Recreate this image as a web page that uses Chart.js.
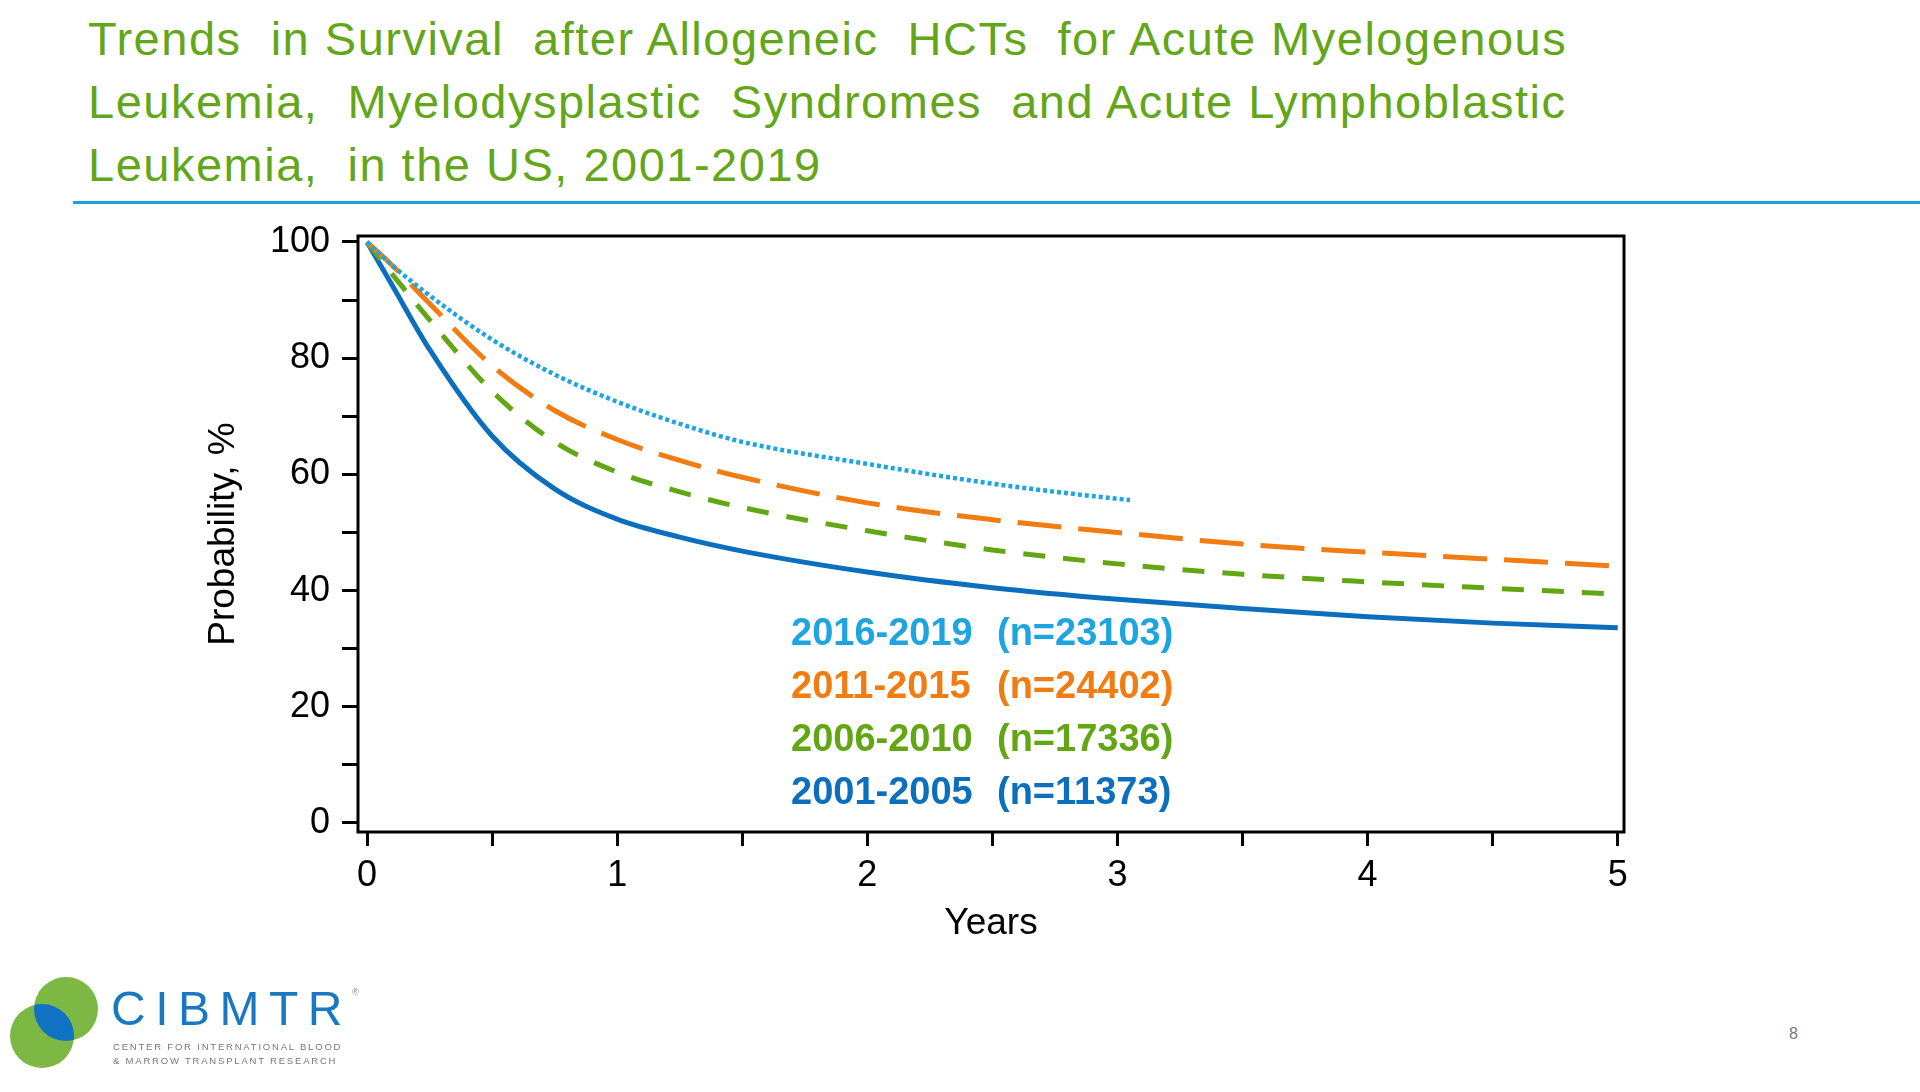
<!DOCTYPE html>
<html>
<head>
<meta charset="utf-8">
<script src="https://cdn.jsdelivr.net/npm/chart.js@4.4.1/dist/chart.umd.min.js"></script>
<style>
  html, body { margin: 0; padding: 0; background: #fff; }
  body { width: 1920px; height: 1092px; position: relative; overflow: hidden; font-family: Arial, "Liberation Sans", sans-serif; }
  #title { position: absolute; left: 88px; top: 7px; font-size: 47px; line-height: 63px; color: #64a619; white-space: pre; letter-spacing: 1.5px; }
  #rule { position: absolute; left: 73px; top: 201px; width: 1847px; height: 3px; background: #1c9fdc; }
  #chart { position: absolute; left: 0; top: 0; }
  #logo { position: absolute; left: 0; top: 970px; }
  #brand { position: absolute; left: 111px; top: 967px; font-size: 48px; line-height: 50px; color: #1a78c2; letter-spacing: 9.5px; }
  #brand sup { font-size: 9px; letter-spacing: 0; vertical-align: 30px; color: #888; }
  #sub { position: absolute; left: 113px; top: 1040px; font-size: 9.5px; line-height: 14px; color: #777; letter-spacing: 1.8px; white-space: pre; }
  #page { position: absolute; left: 1789px; top: 1025px; font-size: 16px; color: #777; }
</style>
</head>
<body>
<div id="title">Trends  in Survival  after Allogeneic  HCTs  for Acute Myelogenous
Leukemia,  Myelodysplastic  Syndromes  and Acute Lymphoblastic
Leukemia,  in the US, 2001-2019</div>
<div id="rule"></div>
<canvas id="chart" width="1920" height="1000"></canvas>
<svg id="logo" width="110" height="105">
  <defs><clipPath id="lens"><circle cx="66" cy="39" r="32"/></clipPath></defs>
  <circle cx="66" cy="39" r="32" fill="#7cb843"/>
  <circle cx="42" cy="66" r="32" fill="#7cb843"/>
  <circle cx="42" cy="66" r="32" fill="#1172c4" clip-path="url(#lens)"/>
</svg>
<div id="brand">CIBMTR<sup>®</sup></div>
<div id="sub">CENTER FOR INTERNATIONAL BLOOD
&amp; MARROW TRANSPLANT RESEARCH</div>
<div id="page">8</div>
<script>
// years after transplant
const years = [0, 0.1, 0.25, 0.5, 0.75, 1, 1.25, 1.5, 2, 2.5, 3, 3.5, 4, 4.5, 5];
const yearsRecent = [0, 0.1, 0.25, 0.5, 0.75, 1, 1.25, 1.5, 2, 2.5, 3, 3.05];

// survival probability, %
const surv2016 = [100, 96.0, 90.8, 83.2, 77.2, 72.5, 68.7, 65.6, 61.8, 58.4, 55.8, 55.6];
const surv2011 = [100, 96.0, 89.4, 78.7, 71.0, 66.0, 62.4, 59.5, 55.1, 52.2, 50.0, 48.0, 46.6, 45.4, 44.2];
const surv2006 = [100, 94.5, 86.6, 74.3, 65.6, 60.4, 57.0, 54.3, 50.3, 47.0, 44.6, 42.8, 41.5, 40.4, 39.4];
const surv2001 = [100, 92.6, 81.5, 66.6, 57.5, 52.3, 49.2, 46.8, 43.2, 40.5, 38.5, 36.9, 35.5, 34.4, 33.6];

const periods = ["2016-2019", "2011-2015", "2006-2010", "2001-2005"];
const counts = [23103, 24402, 17336, 11373];
const colors = ["#1ea4e0", "#f07c12", "#62a614", "#0b6fbe"];

const yTicks = [0, 10, 20, 30, 40, 50, 60, 70, 80, 90, 100];
const yLabels = [0, 20, 40, 60, 80, 100];
const xTicks = [0, 0.5, 1, 1.5, 2, 2.5, 3, 3.5, 4, 4.5, 5];
const xLabels = [0, 1, 2, 3, 4, 5];

const FONT = 'Arial, "Liberation Sans", sans-serif';

const toPoints = (xs, ys) => xs.map((x, i) => ({ x: x, y: ys[i] }));

// box round the plot and the in-plot legend text
const framePlugin = {
  id: "frame",
  afterDatasetsDraw(chart) {
    const { ctx, chartArea: a } = chart;
    ctx.save();
    ctx.strokeStyle = "#000";
    ctx.lineWidth = 3;
    ctx.strokeRect(a.left, a.top, a.right - a.left, a.bottom - a.top);
    ctx.font = "bold 38px " + FONT;
    ctx.textBaseline = "alphabetic";
    periods.forEach((p, i) => {
      const y = a.top + 409 + i * 53;
      ctx.fillStyle = colors[i];
      ctx.fillText(p, a.left + 433, y);
      ctx.fillText("(n=" + counts[i] + ")", a.left + 639, y);
    });
    ctx.restore();
  }
};

new Chart(document.getElementById("chart"), {
  type: "line",
  data: {
    datasets: [
      {
        label: periods[0],
        data: toPoints(yearsRecent, surv2016),
        borderColor: colors[0],
        borderWidth: 4.5,
        borderDash: [4, 3]
      },
      {
        label: periods[1],
        data: toPoints(years, surv2011),
        borderColor: colors[1],
        borderWidth: 5,
        borderDash: [44, 17]
      },
      {
        label: periods[2],
        data: toPoints(years, surv2006),
        borderColor: colors[2],
        borderWidth: 5,
        borderDash: [22, 18]
      },
      {
        label: periods[3],
        data: toPoints(years, surv2001),
        borderColor: colors[3],
        borderWidth: 5
      }
    ]
  },
  options: {
    responsive: false,
    animation: false,
    devicePixelRatio: 1,
    layout: { padding: { left: 190, top: 236, right: 296, bottom: 38 } },
    elements: {
      point: { radius: 0 },
      line: { cubicInterpolationMode: "monotone", fill: false }
    },
    plugins: {
      legend: { display: false },
      tooltip: { enabled: false }
    },
    scales: {
      x: {
        type: "linear",
        min: -0.036,
        max: 5.025,
        afterBuildTicks: (s) => { s.ticks = xTicks.map((v) => ({ value: v })); },
        afterFit: (s) => { s.height = 130; },
        grid: { drawOnChartArea: false, drawTicks: true, tickLength: 14, tickWidth: 3, tickColor: "#000" },
        border: { display: false },
        ticks: {
          padding: 8,
          autoSkip: false,
          maxRotation: 0,
          color: "#000",
          font: { size: 36, family: FONT },
          callback: (v) => (xLabels.includes(v) ? v : "")
        },
        title: { display: true, text: "Years", color: "#000", font: { size: 37, family: FONT }, padding: { top: 0, bottom: 16 } }
      },
      y: {
        type: "linear",
        min: -1.55,
        max: 101.03,
        afterBuildTicks: (s) => { s.ticks = yTicks.map((v) => ({ value: v })); },
        afterFit: (s) => { s.width = 168; },
        grid: { drawOnChartArea: false, drawTicks: true, tickLength: 16, tickWidth: 3, tickColor: "#000" },
        border: { display: false },
        ticks: {
          padding: 12,
          autoSkip: false,
          color: "#000",
          font: { size: 36, family: FONT },
          callback: (v) => (yLabels.includes(v) ? v : "")
        },
        title: { display: true, text: "Probability, %", color: "#000", font: { size: 37, family: FONT }, padding: { top: 12, bottom: 0 } }
      }
    }
  },
  plugins: [framePlugin]
});
</script>
</body>
</html>
